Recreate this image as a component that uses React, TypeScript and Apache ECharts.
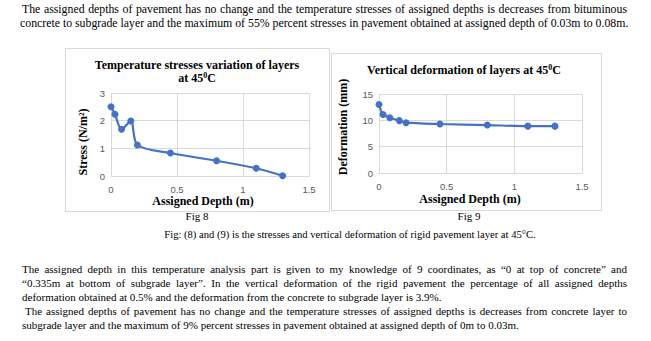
import React, { useEffect, useRef } from "react";
import * as echarts from "echarts";

const depths = [0, 0.03, 0.08, 0.15, 0.2, 0.45, 0.8, 1.1, 1.3];
const stress = [2.5, 2.23, 1.69, 1.99, 1.12, 0.83, 0.55, 0.28, 0.01];
const deformation = [13, 11.1, 10.5, 9.95, 9.55, 9.3, 9.1, 8.9, 8.9];

const title1Line1 = "Temperature stresses variation of layers";
const title2Text = "Vertical deformation of layers at 45";
const xName = "Assigned Depth (m)";
const yName1 = "Stress (N/m²)";
const yName2 = "Deformation (mm)";

const topLines = [
  { text: "The assigned depths of pavement has no change and the temperature stresses of assigned depths is decreases from bituminous", y: 9, justify: true, left: 22 },
  { text: "concrete to subgrade layer and the maximum of 55% percent stresses in pavement obtained at assigned depth of 0.03m to 0.08m.", y: 23, justify: false, left: 20 },
];
const bottomLines = [
  { text: "The assigned depth in this temperature analysis part is given to my knowledge of 9 coordinates, as “0 at top of concrete” and", y: 269, justify: true, left: 22 },
  { text: "“0.335m at bottom of subgrade layer”.  In the vertical deformation of the rigid pavement the percentage of all assigned depths", y: 283, justify: true, left: 22 },
  { text: "deformation obtained at 0.5% and the deformation from the concrete to subgrade layer is 3.9%.", y: 297, justify: false, left: 22 },
  { text: "The assigned depths of pavement has no change and the temperature stresses of assigned depths is decreases from concrete layer to", y: 311, justify: true, left: 25 },
  { text: "subgrade layer and the maximum of 9% percent stresses in pavement obtained at assigned depth of 0m to 0.03m.", y: 325, justify: false, left: 22 },
];
const figLabels = [
  { text: "Fig 8", x: 197, y: 216 },
  { text: "Fig 9", x: 469, y: 216 },
  { text: "Fig: (8) and (9) is the stresses and vertical deformation of rigid pavement layer at 45°C.", x: 350, y: 235 },
];

const SERIF = '"Liberation Serif", "Times New Roman", serif';
const SANS = '"Liberation Sans", Arial, sans-serif';
const BLUE = "#4472C4";
const GRID = "#d9d9d9";

export default function App() {
  const ref = useRef<HTMLDivElement>(null);
  useEffect(() => {
    if (!ref.current) return;
    const chart = echarts.init(ref.current, undefined, { renderer: "svg" });
    const axisLabel = { color: "#595959", fontSize: 9.5, fontFamily: SANS };
    const mkX = (gi: number) => ({
      type: "value",
      gridIndex: gi,
      min: 0,
      max: 1.5,
      interval: 0.5,
      axisLine: { show: true, lineStyle: { color: GRID } },
      axisTick: { show: false },
      splitLine: { show: true, lineStyle: { color: GRID } },
      axisLabel: { ...axisLabel, margin: 8 },
    });
    const mkY = (gi: number, max: number, interval: number) => ({
      type: "value",
      gridIndex: gi,
      min: 0,
      max,
      interval,
      axisLine: { show: false },
      axisTick: { show: false },
      splitLine: { show: true, lineStyle: { color: GRID } },
      axisLabel: { ...axisLabel, margin: 6 },
    });
    const rich = {
      a: { fontFamily: SERIF, fontWeight: "bold", fontSize: 12, lineHeight: 14, color: "#000" },
      s: { fontFamily: SERIF, fontWeight: "bold", fontSize: 8, verticalAlign: "top", color: "#000" },
    };
    const boldFont = `bold 12px ${SERIF}`;
    chart.setOption({
      animation: false,
      grid: [
        { left: 111, top: 93, width: 198, height: 83 },
        { left: 379, top: 94, width: 203, height: 79 },
      ],
      xAxis: [mkX(0), mkX(1)],
      yAxis: [mkY(0, 3, 1), mkY(1, 15, 5)],
      series: [
        {
          type: "line",
          xAxisIndex: 0,
          yAxisIndex: 0,
          data: depths.map((d, i) => [d, stress[i]]),
          smooth: 0.3,
          symbol: "circle",
          symbolSize: 7,
          lineStyle: { color: BLUE, width: 2.2 },
          itemStyle: { color: BLUE },
        },
        {
          type: "line",
          xAxisIndex: 1,
          yAxisIndex: 1,
          data: depths.map((d, i) => [d, deformation[i]]),
          smooth: 0.3,
          symbol: "circle",
          symbolSize: 7,
          lineStyle: { color: BLUE, width: 2.2 },
          itemStyle: { color: BLUE },
        },
      ],
      graphic: [
        { type: "rect", shape: { x: 65.5, y: 48.5, width: 264, height: 163 }, style: { fill: "none", stroke: GRID, lineWidth: 1 }, z: -1 },
        { type: "rect", shape: { x: 331.5, y: 53.5, width: 270, height: 157 }, style: { fill: "none", stroke: GRID, lineWidth: 1 }, z: -1 },
        { type: "text", x: 197, y: 65, style: { text: title1Line1, font: boldFont, fill: "#000", textAlign: "center", textVerticalAlign: "middle" } },
        { type: "text", x: 197, y: 78, style: { text: "{a|at 45}{s|0}{a|C}", rich, textAlign: "center", textVerticalAlign: "middle" } },
        { type: "text", x: 464, y: 70, style: { text: `{a|${title2Text}}{s|0}{a|C}`, rich, textAlign: "center", textVerticalAlign: "middle" } },
        { type: "text", x: 203, y: 201, style: { text: xName, font: boldFont, fill: "#000", textAlign: "center", textVerticalAlign: "middle" } },
        { type: "text", x: 470, y: 199, style: { text: xName, font: boldFont, fill: "#000", textAlign: "center", textVerticalAlign: "middle" } },
        { type: "text", x: 83, y: 142, rotation: Math.PI / 2, style: { text: yName1, font: boldFont, fill: "#000", textAlign: "center", textVerticalAlign: "middle" } },
        { type: "text", x: 343, y: 127, rotation: Math.PI / 2, style: { text: yName2, font: boldFont, fill: "#000", textAlign: "center", textVerticalAlign: "middle" } },
      ],
    });
    return () => chart.dispose();
  }, []);

  const lineStyle = (l: { y: number; justify: boolean; left: number }, size: number): React.CSSProperties => ({
    position: "absolute",
    left: l.left,
    top: l.y - 7,
    width: 627 - l.left,
    height: 14,
    lineHeight: "14px",
    fontFamily: SERIF,
    fontSize: size,
    color: "#000",
    whiteSpace: l.justify ? "normal" : "nowrap",
    textAlign: l.justify ? "justify" : "left",
    textAlignLast: l.justify ? "justify" : "left",
    pointerEvents: "none",
  });

  return (
    <div style={{ position: "fixed", left: 0, top: 0, width: 651, height: 341, background: "#fff", overflow: "hidden" }}>
      <div ref={ref} style={{ position: "absolute", left: 0, top: 0, width: 651, height: 341 }} />
      {topLines.map((l, i) => (
        <div key={"t" + i} style={lineStyle(l, 11.8)}>{l.text}</div>
      ))}
      {figLabels.map((f, i) => (
        <div
          key={"f" + i}
          style={{
            position: "absolute",
            left: f.x - 300,
            top: f.y - 7,
            width: 600,
            height: 14,
            lineHeight: "14px",
            textAlign: "center",
            fontFamily: SERIF,
            fontSize: i === 2 ? 10.6 : 11,
            color: "#000",
            whiteSpace: "nowrap",
          }}
        >
          {f.text}
        </div>
      ))}
      {bottomLines.map((l, i) => (
        <div key={"b" + i} style={lineStyle(l, 11)}>{l.text}</div>
      ))}
    </div>
  );
}
